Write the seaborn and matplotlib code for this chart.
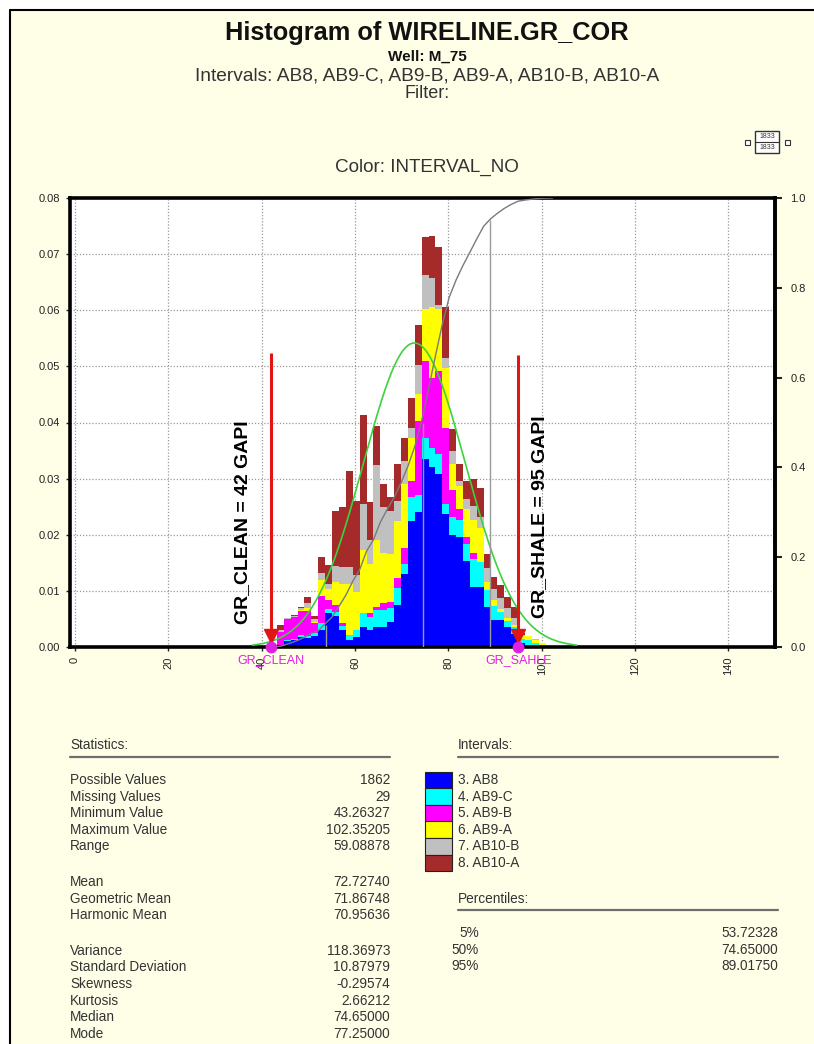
import numpy as np
import pandas as pd
import matplotlib
matplotlib.use("Agg")
import matplotlib.pyplot as plt
from matplotlib.patches import Rectangle
from matplotlib.lines import Line2D
import seaborn as sns

# ---------------- data ----------------
interval_names = ["3. AB8", "4. AB9-C", "5. AB9-B", "6. AB9-A", "7. AB10-B", "8. AB10-A"]
interval_colors = ["#0000FF", "#00FFFF", "#FF00FF", "#FFFF00", "#C0C0C0", "#A52A2A"]

gr_min = 43.26327
gr_max = 102.35205
n_bins = 40

# fraction of all samples falling in each of the 40 bins, per interval
ab8 = [.0003, .0010, .0012, .0018, .0016, .0020, .0030, .0060, .0055, .0030,
       .0012, .0018, .0036, .0030, .0036, .0036, .0045, .0075, .0130, .0225,
       .0240, .0335, .0320, .0308, .0237, .0199, .0196, .0154, .0107, .0107,
       .0071, .0048, .0048, .0036, .0024, .0008, .0002, 0, 0, 0]
ab9c = [0, .0002, .0003, .0004, .0004, .0005, .0012, .0008, .0008, .0008,
        .0010, .0012, .0024, .0024, .0030, .0030, .0025, .0030, .0018, .0042,
        .0030, .0038, .0035, .0036, .0018, .0033, .0030, .0030, .0050, .0045,
        .0030, .0025, .0015, .0010, .0012, .0006, .0010, .0008, .0004, 0]
ab9b = [.0024, .0037, .0038, .0042, .0045, .0018, .0048, .0016, .0012, .0004,
        0, 0, 0, .0006, .0006, .0012, .0010, .0018, .0029, .0029,
        .0132, .0136, .0125, .0147, .0136, .0047, .0020, .0012, .0010, 0,
        0, 0, 0, 0, 0, 0, 0, 0, 0, 0]
ab9a = [0, 0, 0, .0002, .0005, .0002, .0030, .0020, .0040, .0070,
        .0090, .0068, .0112, .0088, .0119, .0089, .0085, .0102, .0113, .0077,
        .0048, .0094, .0126, .0112, .0106, .0047, .0040, .0050, .0060, .0060,
        .0015, .0010, .0005, .0005, .0004, .0005, .0008, .0005, .0004, .0003]
ab10b = [.0004, .0002, .0002, .0003, .0008, .0004, .0011, .0008, .0030, .0030,
         .0030, .0030, .0083, .0042, .0133, .0083, .0077, .0035, .0042, .0017,
         .0053, .0060, .0051, .0007, .0018, .0024, .0010, .0018, .0025, .0020,
         .0025, .0020, .0020, .0018, .0012, .0003, 0, .0002, 0, 0]
ab10a = [.0008, 0, .0002, .0003, .0011, .0006, .0030, .0034, .0097, .0108,
         .0171, .0132, .0159, .0068, .0070, .0040, .0025, .0066, .0041, .0054,
         .0071, .0067, .0076, .0103, .0091, .0038, .0030, .0032, .0048, .0052,
         .0025, .0022, .0022, .0020, .0020, .0003, 0, 0, 0, 0]
series = [ab8, ab9c, ab9b, ab9a, ab10b, ab10a]

# summary statistics
stat_labels = ["Possible Values", "Missing Values", "Minimum Value", "Maximum Value", "Range",
               None, "Mean", "Geometric Mean", "Harmonic Mean",
               None, "Variance", "Standard Deviation", "Skewness", "Kurtosis", "Median", "Mode"]
stat_values = ["1862", "29", "43.26327", "102.35205", "59.08878",
               None, "72.72740", "71.86748", "70.95636",
               None, "118.36973", "10.87979", "-0.29574", "2.66212", "74.65000", "77.25000"]
pct_labels = ["5%", "50%", "95%"]
pct_values = [53.72328, 74.65000, 89.01750]
pct_fracs = [0.05, 0.50, 0.95]
gr_mean = 72.72740
gr_std = 10.87979
gr_clean = 42
gr_shale = 95

# ---------------- style ----------------
sns.set_style("ticks")
plt.rcParams["font.family"] = ["Liberation Sans", "DejaVu Sans"]

W, H = 814, 1044
CREAM = "#FFFFE8"
TXT = "#333333"


def fx(x):
    return x / W


def fy(y):
    return 1 - y / H


fig = plt.figure(figsize=(W / 100, H / 100), dpi=100)
fig.patch.set_facecolor("white")
fig.add_artist(Rectangle((fx(10), 0), 1 - fx(10), fy(10), transform=fig.transFigure,
                         facecolor=CREAM, edgecolor="none", zorder=0))
fig.add_artist(Line2D([fx(10), 1], [fy(10), fy(10)], color="black", lw=1.5))
fig.add_artist(Line2D([fx(10), fx(10)], [0, fy(10)], color="black", lw=1.5))

# ---------------- titles ----------------
cx = fx(427)
fig.text(cx, fy(33), "Histogram of WIRELINE.GR_COR", ha="center", va="center",
         fontsize=18.3, fontweight="bold", color="#111111")
fig.text(cx, fy(57), "Well: M_75", ha="center", va="center", fontsize=11,
         fontweight="bold", color="#111111")
fig.text(cx, fy(76), "Intervals: AB8, AB9-C, AB9-B, AB9-A, AB10-B, AB10-A",
         ha="center", va="center", fontsize=13.8, color=TXT)
fig.text(cx, fy(94), "Filter:", ha="center", va="center", fontsize=13, color=TXT)
fig.text(cx, fy(167), "Color: INTERVAL_NO", ha="center", va="center", fontsize=13.6, color=TXT)

# small scale widget at the top right
fig.add_artist(Rectangle((fx(755), fy(153)), fx(779) - fx(755), fy(131) - fy(153),
                         transform=fig.transFigure, facecolor="white", edgecolor="#333333", lw=1))
fig.add_artist(Line2D([fx(755), fx(779)], [fy(142), fy(142)], color="#333333", lw=0.8))
fig.text(fx(767), fy(136.5), "1833", ha="center", va="center", fontsize=5, color="#333333")
fig.text(fx(767), fy(147.5), "1833", ha="center", va="center", fontsize=5, color="#333333")
for sx in (745, 785):
    fig.add_artist(Rectangle((fx(sx), fy(145)), fx(5), 5 / H, transform=fig.transFigure,
                             facecolor="white", edgecolor="#333333", lw=0.8))

# ---------------- histogram ----------------
ax = fig.add_axes([fx(70), fy(647), (775 - 70) / W, (647 - 198) / H])
ax.set_facecolor("white")

edges = gr_min + (gr_max - gr_min) * np.arange(n_bins + 1) / n_bins
centers = 0.5 * (edges[:-1] + edges[1:])
bin_w = edges[1] - edges[0]

df = pd.DataFrame({
    "gr": np.tile(centers, len(series)),
    "frac": np.concatenate([np.asarray(s, float) for s in series]),
    "interval": np.repeat(interval_names, n_bins),
})

sns.histplot(data=df, x="gr", weights="frac", hue="interval",
             hue_order=interval_names[::-1],
             palette=dict(zip(interval_names, interval_colors)),
             bins=[float(e) for e in edges], multiple="stack", stat="count",
             element="bars", linewidth=0, alpha=1, legend=False, ax=ax, zorder=2,
             antialiased=False)

# fitted normal curve (bin-scaled)
nx = np.linspace(38, 107.5, 300)
ny = bin_w * np.exp(-0.5 * ((nx - gr_mean) / gr_std) ** 2) / (gr_std * np.sqrt(2 * np.pi))
sns.lineplot(x=nx, y=ny, color="#3CD23C", lw=1.2, ax=ax, zorder=5)

# cutoff markers
for val, top in ((gr_clean, 0.0523), (gr_shale, 0.0521)):
    ax.vlines(val, 0, top, color="#E01515", lw=2.2, zorder=6)
    ax.plot([val], [0.0019], marker="v", color="#E01515", markersize=10, zorder=7,
            clip_on=False, linestyle="none")
    ax.plot([val], [0], marker="o", color="#E020E0", markersize=7.5, zorder=8,
            clip_on=False, linestyle="none")

ax.text(36.0, 0.0222, "GR_CLEAN = 42 GAPI", rotation=90, ha="center", va="center",
        fontsize=14, fontweight="bold", color="black", zorder=9)
ax.text(99.6, 0.0232, "GR_SHALE = 95 GAPI", rotation=90, ha="center", va="center",
        fontsize=14, fontweight="bold", color="black", zorder=9)
ax.text(gr_clean, -0.0024, "GR_CLEAN", ha="center", va="center", fontsize=9,
        color="#E020E0", clip_on=False, zorder=9)
ax.text(gr_shale, -0.0024, "GR_SAHLE", ha="center", va="center", fontsize=9,
        color="#E020E0", clip_on=False, zorder=9)

ax.set_xlim(-1.07, 150)
ax.set_ylim(0, 0.08)
ax.set_xticks(range(0, 141, 20))
ax.set_xticklabels([str(v) for v in range(0, 141, 20)], rotation=90)
ax.set_yticks(np.arange(0, 0.0801, 0.01))
ax.set_yticklabels([f"{v:.2f}" for v in np.arange(0, 0.0801, 0.01)])
ax.set_xlabel("")
ax.set_ylabel("")
ax.set_axisbelow(True)
ax.grid(True, linestyle=(0, (1, 1.5)), color="#9A9A9A", lw=0.9)
ax.tick_params(axis="both", direction="out", length=3, width=1, labelsize=8,
               colors="#222222", pad=4)
for sp in ax.spines.values():
    sp.set_visible(True)
    sp.set_linewidth(2.6)
    sp.set_color("black")

# cumulative frequency on the right axis
ax2 = ax.twinx()
totals = np.sum(np.array(series, float), axis=0)
cum = np.concatenate([[0], np.cumsum(totals)]) / totals.sum()
sns.lineplot(x=edges, y=cum, color="#7A7A7A", lw=1.0, ax=ax2, zorder=4)
ax2.vlines(pct_values, 0, pct_fracs, color="#9A9A9A", lw=1.0, zorder=3)
ax2.set_ylim(0, 1.0)
ax2.set_yticks([0, 0.2, 0.4, 0.6, 0.8, 1.0])
ax2.set_yticklabels(["0.0", "0.2", "0.4", "0.6", "0.8", "1.0"])
ax2.set_ylabel("")
ax2.tick_params(axis="y", direction="out", length=5, width=1.5, labelsize=8,
                colors="#222222", pad=6)
ax2.grid(False)
for side in ("left", "top", "bottom"):
    ax2.spines[side].set_visible(False)
ax2.spines["right"].set_linewidth(2.6)
ax2.spines["right"].set_color("black")

# ---------------- statistics block ----------------
FS = 9.8
fig.text(fx(70), fy(745), "Statistics:", ha="left", va="center", fontsize=FS, color=TXT)
fig.add_artist(Line2D([fx(70), fx(390)], [fy(757), fy(757)], color="#6E6E6E", lw=1.6))
y = 780
for lab, val in zip(stat_labels, stat_values):
    if lab is None:
        y += 19
        continue
    fig.text(fx(70), fy(y), lab, ha="left", va="center", fontsize=FS, color=TXT)
    fig.text(fx(390), fy(y), val, ha="right", va="center", fontsize=FS, color=TXT)
    y += 16.6

fig.text(fx(458), fy(745), "Intervals:", ha="left", va="center", fontsize=FS, color=TXT)
fig.add_artist(Line2D([fx(458), fx(778)], [fy(757), fy(757)], color="#6E6E6E", lw=1.6))
row_h = 16.6
for k, (name, col) in enumerate(zip(interval_names, interval_colors)):
    yc = 780 + k * row_h
    fig.add_artist(Rectangle((fx(425), fy(yc + row_h / 2)), fx(452) - fx(425), row_h / H,
                             transform=fig.transFigure, facecolor=col,
                             edgecolor="#222222", lw=0.8))
    fig.text(fx(458), fy(yc), name, ha="left", va="center", fontsize=FS, color=TXT)

fig.text(fx(458), fy(899), "Percentiles:", ha="left", va="center", fontsize=FS, color=TXT)
fig.add_artist(Line2D([fx(458), fx(778)], [fy(910), fy(910)], color="#6E6E6E", lw=1.6))
for k, (lab, val) in enumerate(zip(pct_labels, pct_values)):
    yc = 933 + k * 16.6
    fig.text(fx(479), fy(yc), lab, ha="right", va="center", fontsize=FS, color=TXT)
    fig.text(fx(778), fy(yc), f"{val:.5f}", ha="right", va="center", fontsize=FS, color=TXT)

fig.savefig("out.png", dpi=100, facecolor=fig.get_facecolor())
